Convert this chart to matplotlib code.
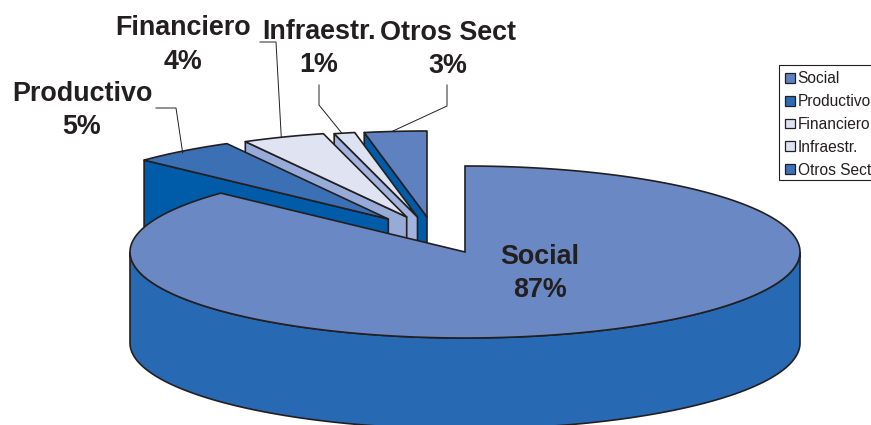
import numpy as np
import matplotlib
matplotlib.use("Agg")
import matplotlib.pyplot as plt
from matplotlib.patches import Polygon, Patch, Rectangle

plt.rcParams['font.family'] = ['Liberation Sans', 'DejaVu Sans']

categories = ["Social", "Productivo", "Financiero", "Infraestr.", "Otros Sect"]
values = [87, 5, 4, 1, 3]

top_colors = ["#6A88C3", "#3B70B5", "#E0E4F2", "#DDE3F3", "#5F81C0"]
side_colors = ["#2869B3", "#005CA9", "#97ABD8", "#A2B3DE", "#005CA9"]
legend_colors = ["#5F81C0", "#2B6CB5", "#DDE1F1", "#DDE3F3", "#3F70B8"]
INK = "#231F20"

# layout (pixel space of the figure)
RX, RY, DEPTH = 335, 86, 91
apex_x = [465, 388.3, 406.7, 417.5, 427]
apex_y = [252, 219, 217, 217, 217]
label_xy = [(540, 273.5), (82, 110.5), (183, 45), (319, 48.5), (448, 49.5)]
leaders = [None,
           [(156, 108), (176, 108), (182.7, 153)],
           [(260, 42), (276, 42), (281.3, 137.5)],
           [(319, 85), (319, 105), (341.7, 133)],
           [(447, 85), (447, 106), (393, 131)]]

W, H = 871, 425
fig = plt.figure(figsize=(W / 100, H / 100), dpi=100)
ax = fig.add_axes([0, 0, 1, 1])
ax.set_xlim(0, W)
ax.set_ylim(H, 0)
ax.axis("off")


def rim(cx, cy, a0, a1, n=120):
    t = np.radians(np.linspace(a0, a1, n))
    return np.column_stack([cx + RX * np.sin(t), cy - RY * np.cos(t)])


edges = np.cumsum([0] + values) / sum(values) * 360.0
LW = 1.2

# small exploded slices back to front, then the large slice
for i in [4, 3, 2, 1]:
    a0, a1 = edges[i], edges[i + 1]
    cx, cy = apex_x[i], apex_y[i]
    arc = rim(cx, cy, a0, a1)
    wall = np.array([[cx, cy], arc[0], arc[0] + [0, DEPTH], [cx, cy + DEPTH]])
    ax.add_patch(Polygon(wall, closed=True, fc=side_colors[i], ec=INK, lw=LW, joinstyle="round", zorder=6 - i))
    ax.add_patch(Polygon(np.vstack([[[cx, cy]], arc]), closed=True, fc=top_colors[i], ec=INK, lw=LW, joinstyle="round", zorder=6 - i))

cx, cy = apex_x[0], apex_y[0]
front = rim(cx, cy, 90, 270)
ax.add_patch(Polygon(np.vstack([front, (front + [0, DEPTH])[::-1]]), closed=True,
                     fc=side_colors[0], ec=INK, lw=LW, zorder=7))
arc = rim(cx, cy, edges[0], edges[1], 300)
ax.add_patch(Polygon(np.vstack([[[cx, cy]], arc]), closed=True, fc=top_colors[0], ec=INK, lw=LW, zorder=8))

for pts in leaders:
    if pts:
        xs, ys = zip(*pts)
        ax.plot(xs, ys, color=INK, lw=0.7, zorder=9, solid_joinstyle="miter")

for name, v, (x, y) in zip(categories, values, label_xy):
    ax.text(x, y, f"{name}\n{v}%", ha="center", va="center", fontsize=19.4,
            fontweight="bold", color=INK, linespacing=1.36, zorder=10)

# legend box is cut off by the right edge of the picture
ax.add_patch(Rectangle((779, 65), 110, 115, fc="white", ec=INK, lw=0.8, zorder=11))
handles = [Patch(fc=c, ec=INK, lw=0.9) for c in legend_colors]
leg = ax.legend(handles, categories, loc="upper left", bbox_to_anchor=(785.2, 71.4),
                bbox_transform=ax.transData, fontsize=11.2, frameon=False, borderpad=0, borderaxespad=0,
                handlelength=0.6, handleheight=0.6, handletextpad=0.2, labelspacing=0.5,
                labelcolor=INK)
leg.set_zorder(12)

fig.savefig("out.png", dpi=100)
